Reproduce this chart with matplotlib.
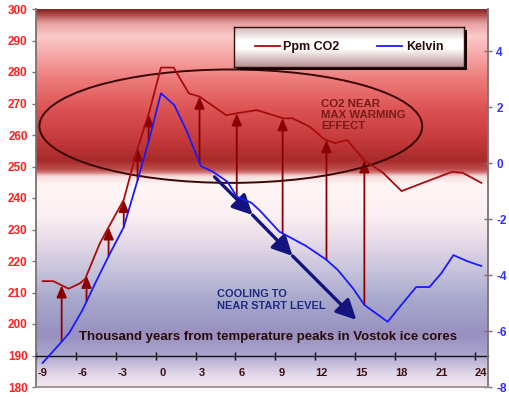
import matplotlib
matplotlib.use('Agg')
import matplotlib.pyplot as plt
import numpy as np
from matplotlib.colors import LinearSegmentedColormap
from matplotlib.patches import Ellipse, Rectangle
from matplotlib.lines import Line2D

# CO2 (ppm) vs thousand years from temperature peak
co2_kyr = [-9.0, -8.2, -7.05, -6.2, -5.8, -4.7, -3.6, -2.9, -1.9, -1.0, -0.1, 0.85,
           2.0, 2.8, 4.8, 5.6, 7.1, 9.1, 9.8, 11.1, 12.2, 13.0, 13.9, 15.2, 16.6,
           18.0, 19.6, 21.8, 22.6, 24.0]
co2_ppm = [213.6, 213.6, 211.2, 212.9, 214.3, 225.6, 234.1, 239.4, 255.2, 267.0,
           281.4, 281.4, 273.2, 272.2, 266.3, 266.9, 267.9, 265.3, 265.3, 262.6,
           258.6, 257.4, 258.4, 252.0, 248.0, 242.2, 244.8, 248.3, 248.0, 244.8]

# temperature anomaly (Kelvin)
temp_kyr = [-9.0, -7.6, -7.0, -6.0, -5.0, -4.0, -2.9, -2.3, -1.7, -1.0, -0.1, 0.9,
            1.8, 2.9, 3.8, 4.9, 5.6, 6.7, 7.3, 8.8, 10.8, 12.3, 13.2, 14.35, 15.2,
            16.95, 18.1, 19.1, 20.1, 21.0, 21.9, 22.9, 24.0]
temp_k = [-7.14, -6.4, -6.07, -5.25, -4.25, -3.29, -2.29, -1.32, -0.36, 0.82, 2.49,
          2.07, 1.18, -0.11, -0.31, -0.67, -1.2, -1.42, -1.68, -2.45, -2.96, -3.44,
          -3.82, -4.48, -5.07, -5.67, -5.0, -4.43, -4.43, -3.93, -3.29, -3.5, -3.68]

# where the red "lag" arrows stand
lag_kyr = [-7.57, -5.7, -4.04, -2.9, -1.86, -1.03, 2.8, 5.6, 9.05, 12.35, 15.2]

# cooling arrow path (kyr, ppm-axis units)
cool_kyr = [3.93, 6.79, 9.8, 14.6]
cool_ppm = [246.7, 234.6, 221.6, 201.3]

x_labels = list(range(-9, 25, 3))
ppm_ticks = list(range(180, 301, 10))
k_ticks = list(range(-8, 5, 2))

plt.rcParams['font.family'] = ['Liberation Sans', 'DejaVu Sans']
plt.rcParams['font.weight'] = 'bold'

fig = plt.figure(figsize=(5.1, 3.97), dpi=100)
ax = fig.add_axes([36 / 510, 10 / 397, 452 / 510, 378 / 397])
ax.set_autoscale_on(False)

# background gradient
stops = [(0.0, '#f2e6ef'), (0.032, '#e0d6e8'), (0.085, '#a8a4cc'), (0.138, '#9890c0'),
         (0.23, '#a8a8cc'), (0.31, '#c8c4dc'), (0.389, '#e8dce8'), (0.455, '#fbf0f3'),
         (0.534, '#fff6f6'), (0.558, '#f8dede'), (0.574, '#c05050'), (0.601, '#a82a2a'),
         (0.653, '#c43a3a'), (0.733, '#dc5252'), (0.812, '#ec7878'), (0.878, '#f6a6a6'),
         (0.931, '#fccaca'), (0.966, '#e8a0a0'), (0.987, '#b05050'), (1.0, '#8c2a2a')]
bg = LinearSegmentedColormap.from_list('bg', stops)
grad = np.linspace(0, 1, 400).reshape(-1, 1)
ax.imshow(grad, extent=[0, 1, 0, 1], transform=ax.transAxes, aspect='auto',
          origin='lower', cmap=bg, zorder=0)

ax.set_xlim(-9.5, 24.5)
ax.set_ylim(180, 300)

ax2 = ax.twinx()
ax2.set_ylim(-8, 5.5)

# main lines
ax.plot(co2_kyr, co2_ppm, color='#a80c0c', lw=1.3, zorder=4)
ax2.plot(temp_kyr, temp_k, color='#1a1aff', lw=1.3, zorder=4)

# lag arrows from temperature up to CO2
for xk in lag_kyr:
    k0 = np.interp(xk, temp_kyr, temp_k)
    p1 = np.interp(xk, co2_kyr, co2_ppm)
    ax.annotate('', xy=(xk, p1), xytext=(xk, k0), textcoords=ax2.transData,
                arrowprops=dict(arrowstyle='-|>,head_length=0.9,head_width=0.38',
                                mutation_scale=8, color='#8b0000', lw=1.3,
                                shrinkA=0, shrinkB=0), zorder=3)

# cooling arrows
for i in range(len(cool_kyr) - 1):
    ax.annotate('', xy=(cool_kyr[i + 1], cool_ppm[i + 1]), xytext=(cool_kyr[i], cool_ppm[i]),
                arrowprops=dict(arrowstyle='-|>,head_length=1.0,head_width=0.5',
                                mutation_scale=12, color='#14147e', lw=2.4,
                                shrinkA=0, shrinkB=0), zorder=5)

# ellipse
ax.add_patch(Ellipse((0.431, 0.690), 0.847, 0.300, transform=ax.transAxes,
                     fill=False, ec='#3a0606', lw=1.4, zorder=3))

# texts
ax.text(0.631, 0.7196, 'CO2 NEAR\nMAX WARMING\nEFFECT', transform=ax.transAxes,
        color='#7a1a1a', fontsize=8.2, va='center', ha='left', linespacing=1.15, zorder=6)
ax.text(0.40, 0.230, 'COOLING TO\nNEAR START LEVEL', transform=ax.transAxes,
        color='#1e2a80', fontsize=7.9, va='center', ha='left', linespacing=1.2, zorder=6)
ax.text(0.095, 0.132, 'Thousand years from temperature peaks in Vostok ice cores',
        transform=ax.transAxes, color='#2a0a0a', fontsize=9.5, va='center', ha='left', zorder=6)

# axes styling
for s in ['top', 'right']:
    ax.spines[s].set_visible(False)
ax.spines['left'].set_color('#807070')
ax.spines['left'].set_linewidth(1.3)
ax.spines['bottom'].set_position(('data', 190))
ax.spines['bottom'].set_color('#101010')
ax.spines['bottom'].set_linewidth(1.0)

ax.set_yticks(ppm_ticks)
ax.set_yticklabels([str(v) for v in ppm_ticks])
ax.tick_params(axis='y', colors='#807070', labelcolor='#ff2020', labelsize=8.5,
               length=3, width=1, pad=3)

ax.set_xticks(np.arange(-9.5, 24, 3))
ax.set_xticklabels([])
ax.set_xticks(x_labels, minor=True)
ax.set_xticklabels([str(v) for v in x_labels], minor=True)
ax.tick_params(axis='x', which='major', direction='inout', length=6, width=1, colors='#101010')
ax.tick_params(axis='x', which='minor', length=0, pad=9, labelsize=8, labelcolor='#3a1010')

for s in ['top', 'left']:
    ax2.spines[s].set_visible(False)
ax2.spines['right'].set_color('#807070')
ax2.spines['right'].set_linewidth(1.3)
ax2.spines['bottom'].set_color('#9a8a90')
ax2.spines['bottom'].set_linewidth(1.3)
ax2.set_yticks(k_ticks)
ax2.set_yticklabels([str(v) for v in k_ticks])
ax2.tick_params(axis='y', direction='inout', length=6, width=1, colors='#807070',
                labelcolor='#3030ff', labelsize=8.5, pad=3)

# legend box with shadow and gradient
lx, ly, lw_, lh = 234 / 510, 330 / 397, 230 / 510, 40 / 397
fig.patches.append(Rectangle((lx + 3 / 510, ly - 3 / 397), lw_, lh, transform=fig.transFigure,
                             facecolor='#100000', edgecolor='none', zorder=1))
lax = fig.add_axes([lx, ly, lw_, lh], zorder=2)
leg_cm = LinearSegmentedColormap.from_list('lg', [(0, '#b89090'), (0.45, '#ffffff'),
                                                  (0.65, '#ffffff'), (1, '#d0b0b0')])
lax.imshow(grad, extent=[0, 1, 0, 1], aspect='auto', origin='lower', cmap=leg_cm)
lax.set_xlim(0, 1)
lax.set_ylim(0, 1)
lax.set_xticks([])
lax.set_yticks([])
for s in lax.spines.values():
    s.set_color('#301010')
    s.set_linewidth(1)
handles = [Line2D([], [], color='#a80c0c', lw=1.3), Line2D([], [], color='#1a1aff', lw=1.3)]
lax.legend(handles, ['Ppm CO2', 'Kelvin'], loc='center', frameon=False, ncol=2,
           fontsize=9, handlelength=2.0, handletextpad=0.3, columnspacing=3.0,
           labelcolor='#2a0a0a')

fig.savefig('out.png', dpi=100)
